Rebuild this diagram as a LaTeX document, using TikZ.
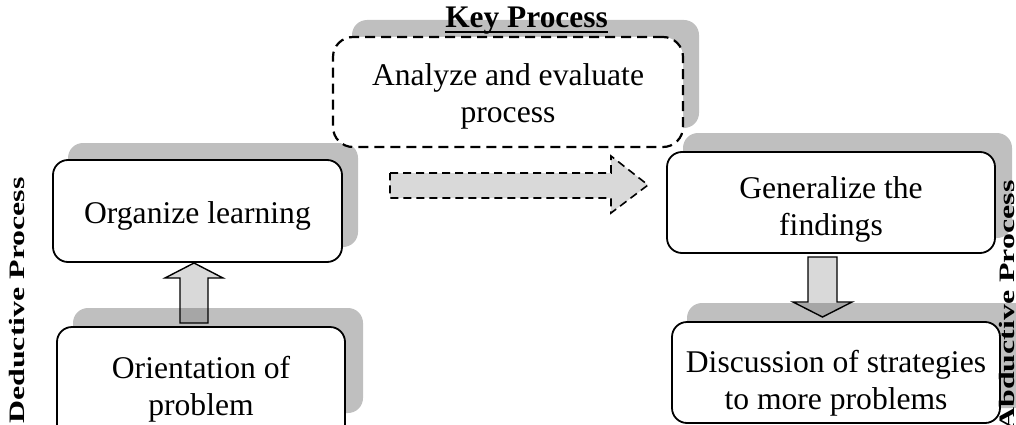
\documentclass[tikz,border=0pt]{standalone}
\usepackage{fontspec}
\setmainfont{Liberation Serif}
\usepackage{graphicx}
\definecolor{shad}{HTML}{BFBFBF}
\definecolor{arr}{HTML}{D9D9D9}
\definecolor{arrdark}{HTML}{A6A6A6}
\newcommand{\btext}[2]{\raisebox{-#1}[\height][\depth]{\begin{tabular}{@{}c@{}}#2\end{tabular}}}
\tikzset{
  shadowbox/.style={fill=shad, rounded corners=15pt},
  procbox/.style={draw=black, fill=white, line width=1.8pt, rounded corners=15pt,
    inner sep=0pt, font=\fontsize{31.6}{37}\selectfont},
  keybox/.style={procbox, line width=2.2pt, dash pattern=on 10pt off 6pt, rounded corners=20pt},
  blockarrow/.style={draw=black, line width=1.4pt, line join=miter, fill=arr},
  sidetext/.style={rotate=90, inner sep=0pt, font=\fontsize{22}{26}\selectfont\bfseries}
}
\begin{document}
\begin{tikzpicture}[x=1pt,y=1pt]
\useasboundingbox (0,0) rectangle (1016,424);
\clip (0,0) rectangle (1016,424);

% shadows
\fill[shadowbox] (352,296) rectangle (699,404);
\fill[shadowbox] (68,177) rectangle (358,281);
\fill[shadowbox] (73,11) rectangle (363,116);
\fill[shadowbox] (683,186) rectangle (1012,291);
\fill[shadowbox] (687,16) rectangle (1030,121);

% boxes
\node[keybox, minimum width=350pt, minimum height=110pt] (key) at (508,332)
  {\btext{5pt}{Analyze and evaluate\\process}};
\node[procbox, minimum width=289pt, minimum height=102pt] (org) at (197.5,213)
  {\btext{5pt}{Organize learning}};
\node[procbox, minimum width=288pt, minimum height=126pt] (ori) at (201,34)
  {\btext{0pt}{Orientation of\\problem}};
\node[procbox, minimum width=328pt, minimum height=101pt] (gen) at (831,221.5)
  {\btext{7pt}{Generalize the\\findings}};
\node[procbox, minimum width=328pt, minimum height=101pt] (dis) at (836,51.5)
  {\btext{11pt}{Discussion of strategies\\to more problems}};

% title
\node[anchor=base, inner sep=0pt, font=\fontsize{31.4}{37}\selectfont\bfseries] (title) at (526.5,396) {Key Process};
\draw[line width=1.8pt] ([yshift=-4pt]title.base west) -- ([yshift=-4pt]title.base east);

% up arrow
\fill[arr] (180,101) -- (180,146) -- (165,146) -- (194,161) -- (223,146) -- (208,146) -- (208,101) -- cycle;
\begin{scope}
  \clip[rounded corners=15pt] (73,11) rectangle (363,116);
  \fill[arrdark] (180,101) -- (180,146) -- (165,146) -- (194,161) -- (223,146) -- (208,146) -- (208,101) -- cycle;
\end{scope}
\draw[blockarrow, fill=none] (180,101) -- (180,146) -- (165,146) -- (194,161) -- (223,146) -- (208,146) -- (208,101) -- cycle;

% down arrow
\fill[arr] (808,167) -- (808,122) -- (793,122) -- (822.5,107) -- (852,122) -- (837,122) -- (837,167) -- cycle;
\begin{scope}
  \clip[rounded corners=15pt] (687,16) rectangle (1030,121);
  \fill[arrdark] (808,167) -- (808,122) -- (793,122) -- (822.5,107) -- (852,122) -- (837,122) -- (837,167) -- cycle;
\end{scope}
\draw[blockarrow, fill=none] (808,167) -- (808,122) -- (793,122) -- (822.5,107) -- (852,122) -- (837,122) -- (837,167) -- cycle;

% dashed arrow
\draw[blockarrow, line width=1.6pt, dash pattern=on 8pt off 5pt] (390,251) -- (611,251) -- (611,268) -- (648,239) -- (611,211) -- (611,226) -- (390,226) -- cycle;

% side labels
\node[sidetext] (ded) at (17.5,123.5) {\scalebox{1.45}[1]{Deductive Process}};
\node[sidetext] (abd) at (1006.5,118.5) {\scalebox{1.45}[1]{Abductive Process}};
\end{tikzpicture}
\end{document}
